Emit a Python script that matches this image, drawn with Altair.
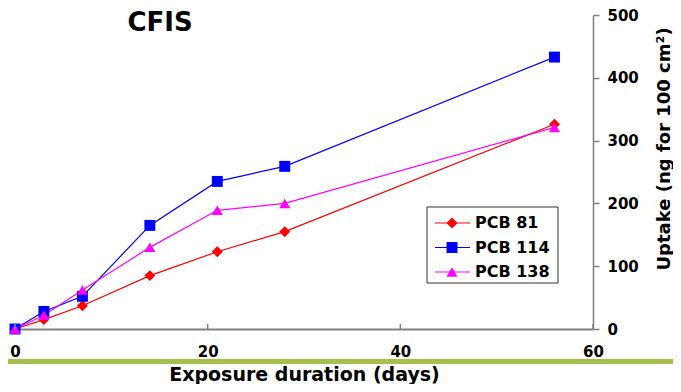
import altair as alt
import pandas as pd

days = [0, 3, 7, 14, 21, 28, 56]
pcb81 = [0, 15, 37, 85, 123, 155, 326]
pcb114 = [0, 28, 52, 165, 235, 259, 433]
pcb138 = [0, 22, 62, 130, 189, 200, 321]
series = ["PCB 81", "PCB 114", "PCB 138"]
colors = ["#ff0000", "#0000ff", "#ff00ff"]
shapes = ["diamond", "square", "triangle-up"]
x_ticks = [0, 20, 40, 60]
y_ticks = [0, 100, 200, 300, 400, 500]
title_text = "CFIS"
x_title = "Exposure duration (days)"
y_title = "Uptake (ng for 100 cm²)"

FONT = "DejaVu Sans"
GRAY = "#808080"

rows = []
for name, vals in zip(series, [pcb81, pcb114, pcb138]):
    for d, v in zip(days, vals):
        rows.append({"series": name, "day": d, "uptake": v})
df = pd.DataFrame(rows)

color = alt.Color("series:N", scale=alt.Scale(domain=series, range=colors), legend=None)
shape = alt.Shape("series:N", scale=alt.Scale(domain=series, range=shapes), legend=None)

x = alt.X(
    "day:Q",
    scale=alt.Scale(domain=[0, 60], nice=False),
    axis=alt.Axis(
        values=x_ticks, title=x_title, ticks=False, labelPadding=15, grid=False,
        domainColor=GRAY, domainWidth=2, labelFlush=False,
        labelFont=FONT, labelFontSize=15, labelFontWeight="bold", labelColor="black",
        titleFont=FONT, titleFontSize=19, titleFontWeight="bold", titleColor="black",
        titleY=51, titleBaseline="alphabetic",
    ),
)
y = alt.Y(
    "uptake:Q",
    scale=alt.Scale(domain=[0, 500], nice=False),
    axis=alt.Axis(
        orient="right", values=y_ticks, title=y_title, grid=False,
        tickSize=6, tickColor=GRAY, tickWidth=1.5, domainColor=GRAY, domainWidth=1.5,
        labelPadding=8, labelFont=FONT, labelFontSize=15, labelFontWeight="bold", labelColor="black",
        titleFont=FONT, titleFontSize=18, titleFontWeight="bold", titleColor="black",
        titleAngle=270, titleAlign="left", titleBaseline="middle", titleX=71, titleY=255,
    ),
)

green = alt.Chart(pd.DataFrame({"k": [0]})).mark_rule(color="#a5c04c", strokeWidth=5).encode(
    x=alt.value(-7), x2=alt.value(658), y=alt.value(346.5)
)
inner_ticks = alt.Chart(pd.DataFrame({"t": x_ticks})).mark_rule(color=GRAY, strokeWidth=1.5).encode(
    x=alt.X("t:Q"), y=alt.value(309), y2=alt.value(314)
)
lines = alt.Chart(df).mark_line(strokeWidth=1.2).encode(x=x, y=y, color=color)
points = alt.Chart(df).mark_point(filled=True, size=120, opacity=1).encode(
    x="day:Q", y="uptake:Q", color=color, shape=shape
)
title_mark = alt.Chart(pd.DataFrame({"t": [title_text]})).mark_text(
    font=FONT, fontSize=26, fontWeight="bold", align="center", baseline="middle", color="black"
).encode(text="t:N", x=alt.value(145), y=alt.value(8))

main = alt.layer(green, lines, points, inner_ticks, title_mark)

leg = pd.DataFrame({"series": series})
ly = alt.Y("series:N", scale=alt.Scale(type="point", domain=series, range=[208, 257], padding=0), axis=None)
box = alt.Chart(pd.DataFrame({"k": [0]})).mark_rect(fill="white", stroke="#333333", strokeWidth=1).encode(
    x=alt.value(412), x2=alt.value(543), y=alt.value(192), y2=alt.value(268)
)
lrule = alt.Chart(leg).mark_rule(strokeWidth=1.2).encode(
    x=alt.value(420), x2=alt.value(455), y=ly, color=color
)
lpt = alt.Chart(leg).mark_point(filled=True, size=120, opacity=1).encode(
    x=alt.value(437), y=ly, color=color, shape=shape
)
ltxt = alt.Chart(leg).mark_text(
    align="left", baseline="middle", font=FONT, fontSize=16, fontWeight="bold", color="black"
).encode(x=alt.value(460), y=ly, text="series:N")
legend_layer = alt.layer(box, lrule, lpt, ltxt)

chart = (
    alt.layer(main, legend_layer)
    .resolve_scale(y="independent")
    .properties(
        width=578, height=314,
        autosize=alt.AutoSizeParams(type="none"),
        padding={"left": 7, "top": 7, "right": 80, "bottom": 55},
    )
    .configure_view(stroke=None)
)

chart.save("out.html", embed_options={"renderer": "svg", "actions": False})
